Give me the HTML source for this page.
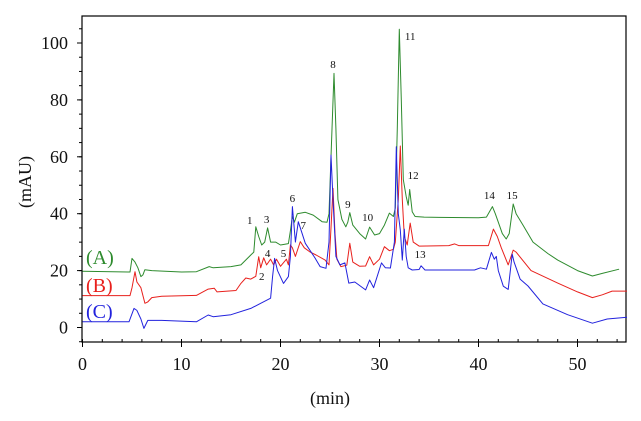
<!DOCTYPE html>
<html><head><meta charset="utf-8"><style>
html,body{margin:0;padding:0;background:#fff;}
svg{display:block;font-family:"Liberation Serif",serif;}
</style></head><body>
<svg id="chart" width="641" height="421" viewBox="0 0 641 421" xmlns="http://www.w3.org/2000/svg"></svg>
<script>
const xTicks=[0,10,20,30,40,50];
const yTicks=[0,20,40,60,80,100];
const seriesNames=["(A)","(B)","(C)"];
const aTimes=[0,4.8,5.0,5.3,5.6,5.9,6.1,6.3,7,10,11.5,12.8,13.2,15,16,17,17.3,17.5,17.8,18.1,18.4,18.7,19,19.5,20,20.8,21,21.2,21.4,21.7,22.5,23.3,24.2,24.7,24.9,25.1,25.4,25.6,25.8,26.2,26.6,26.8,27.0,27.3,28,28.6,29.0,29.5,30,30.5,31,31.4,31.6,31.8,32.0,32.2,32.4,32.7,32.9,33.05,33.3,33.6,34.5,36,40,40.8,41.4,41.7,42.0,42.4,42.8,43.1,43.5,43.8,44.5,45.5,47,48,50,51.5,52.5,54.2];
const aValues=[19.8,19.5,24.3,23,21,17.9,18.5,20.3,20,19.5,19.6,21.4,21,21.4,22,25.5,26.5,35.4,32,29,30,35,30,30,29,29.5,34,39,37,40,40.5,39.5,37.2,37,40,60,89.3,70,45,38,35.4,37,40.4,36,33,31.1,35.3,32.5,33,36,40.2,39,42,70,104.8,80,52,46,43,48.5,40.7,39,38.8,38.7,38.6,38.8,42.5,40,37,33,31.1,33,43.4,40,36,30,26,23.7,20,18.1,19,20.5];
const bTimes=[0,4.8,5.0,5.3,5.5,5.9,6.3,6.6,7,8,11.5,12.7,13.3,13.6,15.5,16,16.5,17,17.5,17.8,18.0,18.3,18.6,19,19.3,19.6,20,20.6,20.8,21.0,21.2,21.5,22,22.4,23,23.6,24.5,24.9,25.1,25.3,25.5,25.7,26.1,26.7,27.0,27.3,28,28.6,29.0,29.4,30,30.5,31,31.4,31.6,31.9,32.1,32.3,32.5,32.8,33.1,33.4,34,37,37.6,38,41,41.5,41.9,42.3,43.0,43.5,43.8,45.3,48,50,51.5,52.5,53.5,55];
const bValues=[11.2,11.2,14,19.6,16,14,8.5,9,10.5,11,11.3,13.5,13.8,12.5,13,15.5,17.4,17,18,24.9,21,24.5,22,24,22,24,21.5,24,22,29,28,25,30.2,28,26.5,25.5,23.7,22,35,48.9,33,24,21.4,21.9,29.6,23,21.5,21.6,24.9,22,24,28.4,27,27.5,30,45,63.8,45,32,29,36.7,30,28.6,28.8,29.4,28.8,28.8,34.6,32,28,22,27.2,26.5,20,15.6,12.5,10.5,11.5,12.8,12.8];
const cTimes=[0,4.7,5.2,5.5,5.9,6.2,6.6,8,11.5,12.7,13.2,15,17,18,19,19.2,19.4,19.7,20.3,20.8,21.0,21.2,21.5,21.8,22.5,23.5,24,24.6,24.9,25.1,25.3,25.6,26.0,26.5,26.9,27.5,28.6,29.0,29.4,30.2,30.6,31.1,31.5,31.7,31.9,32.1,32.3,32.5,32.7,32.9,33.3,34,34.2,34.6,39.6,40.2,40.8,41.3,41.6,41.8,42.0,42.5,43.0,43.4,43.6,44.2,45,46.5,49,51.5,53,55];
const cValues=[2,2,6.7,6,3,-0.3,2.5,2.5,2,4.4,3.8,4.5,6.7,8.5,10.3,18,24.3,20,15.5,17.9,25,42.5,30,37.2,29.6,24.4,21.4,20.8,30,60.6,45,25,22,22.7,15.6,16,13.2,16.7,14,22.7,21,20.9,30,63.5,40,34.3,23.7,34.6,25,21,20.2,20.4,21.7,20.2,20.2,21,20.5,26.4,24,25,20,14.5,13.4,25.8,23,17,14.6,8.3,4.5,1.5,3,3.6];
const peakLabels=["1","2","3","4","5","6","7","8","9","10","11","12","13","14","15"];
const peakTimes=[16.9,18.1,18.6,18.7,20.3,21.2,22.3,25.3,26.8,28.8,33.1,33.4,34.1,41.1,43.4];
const peakValues=[37.8,18.1,38.1,26.2,26.2,45.5,36.0,92.6,43.4,38.8,102.5,53.6,25.8,46.6,46.6];

const svg=document.getElementById('chart');
const NS='http://www.w3.org/2000/svg';
const X0=82.5,XS=9.9,Y0=327.5,YS=2.845;
const L=82,R=626,T=16,B=342;
function sx(t){return X0+t*XS;}
function sy(v){return Y0-v*YS;}
function mk(tag,attrs,parent){const e=document.createElementNS(NS,tag);for(const k in attrs)e.setAttribute(k,attrs[k]);(parent||svg).appendChild(e);return e;}

const frame=mk('rect',{x:L,y:T,width:R-L,height:B-T,fill:'none',stroke:'#000','stroke-width':1.2});



const ax=mk('g',{});


for(let t=0;t<=55;t+=2){
  const tk=mk('line',{x1:sx(t),x2:sx(t),y1:B,y2:B-3,stroke:'#000','stroke-width':1},ax);
  
  
}
xTicks.forEach(t=>{
  const tk=mk('line',{x1:sx(t),x2:sx(t),y1:B,y2:B+5,stroke:'#000','stroke-width':1},ax);
  
  
  const tl=mk('text',{x:sx(t),y:370,'text-anchor':'middle','font-size':18,fill:'#111'},ax);
  tl.textContent=t;
  
  
});
const xt=mk('text',{x:330,y:404,'text-anchor':'middle','font-size':18,fill:'#111'});
xt.textContent='(min)';



const ay=mk('g',{});


for(let v=-5;v<=105;v+=5){
  const tk=mk('line',{x1:L,x2:L-3,y1:sy(v),y2:sy(v),stroke:'#000','stroke-width':1},ay);
  
  
}
yTicks.forEach(v=>{
  const tk=mk('line',{x1:L,x2:L-5,y1:sy(v),y2:sy(v),stroke:'#000','stroke-width':1},ay);
  
  
  const tl=mk('text',{x:68,y:sy(v)+6,'text-anchor':'end','font-size':18,fill:'#111'},ay);
  tl.textContent=v;
  
  
});
const yt=mk('text',{x:0,y:0,'text-anchor':'middle','font-size':18,fill:'#111',transform:'translate(31,182) rotate(-90)'});
yt.textContent='(mAU)';



const series=[[aTimes,aValues,'#2e8b2e','series-a-line'],[bTimes,bValues,'#e8201c','series-b-line'],[cTimes,cValues,'#2222dd','series-c-line']];
series.forEach(s=>{
  const d=s[0].map((t,i)=>(i?'L':'M')+sx(t).toFixed(1)+','+sy(s[1][i]).toFixed(1)).join('');
  const p=mk('path',{d:d,fill:'none',stroke:s[2],'stroke-width':1,'stroke-linejoin':'round'});
  
  
});

const legendY=[264,292,318];
seriesNames.forEach((n,i)=>{
  const t=mk('text',{x:86,y:legendY[i],'font-size':20,fill:series[i][2]});
  t.textContent=n;
  
  
});

peakLabels.forEach((lab,i)=>{
  const t=mk('text',{x:sx(peakTimes[i]),y:sy(peakValues[i])+4,'text-anchor':'middle','font-size':11,fill:'#111'});
  t.textContent=lab;
  
  
});
</script>
</body></html>
